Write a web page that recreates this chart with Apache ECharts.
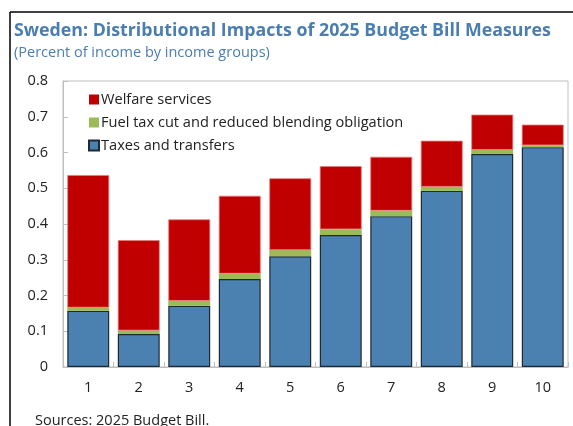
<!DOCTYPE html>
<html>
<head>
<meta charset="utf-8">
<script src="https://cdn.jsdelivr.net/npm/echarts@6/dist/echarts.min.js"></script>
<style>
  html, body { margin: 0; padding: 0; background: #fff; }
  #chart { width: 573px; height: 426px; }
</style>
</head>
<body>
<div id="chart"></div>
<script>
// Income deciles
const categories = ['1', '2', '3', '4', '5', '6', '7', '8', '9', '10'];

// Percent of income, stacked components
const taxesAndTransfers = [0.157, 0.092, 0.171, 0.246, 0.310, 0.369, 0.422, 0.493, 0.596, 0.615];
const fuelTaxCut = [0.009, 0.010, 0.014, 0.015, 0.017, 0.016, 0.015, 0.011, 0.011, 0.005];
const welfareServices = [0.371, 0.253, 0.228, 0.218, 0.201, 0.177, 0.151, 0.129, 0.099, 0.058];

const yTicks = [0, 0.1, 0.2, 0.3, 0.4, 0.5, 0.6, 0.7, 0.8];

const FONT = 'Open Sans';
const chart = echarts.init(document.getElementById('chart'), null, { renderer: 'canvas' });

chart.setOption({
  backgroundColor: '#ffffff',
  animation: false,
  title: {
    text: 'Sweden: Distributional Impacts of 2025 Budget Bill Measures',
    subtext: '(Percent of income by income groups)',
    left: 9,
    top: 17,
    itemGap: 5,
    textStyle: { color: '#4a7eb0', fontFamily: FONT, fontSize: 17.8, fontWeight: 'bold' },
    subtextStyle: { color: '#4a7eb0', fontFamily: FONT, fontSize: 14.5 }
  },
  legend: {
    orient: 'vertical',
    left: 83,
    top: 87,
    itemWidth: 10,
    itemHeight: 10,
    itemGap: 8,
    icon: 'rect',
    data: [
      { name: 'Welfare services', itemStyle: { borderWidth: 0 } },
      { name: 'Fuel tax cut and reduced blending obligation' },
      { name: 'Taxes and transfers' }
    ],
    textStyle: { color: '#222', fontFamily: FONT, fontSize: 14.6, padding: [0, 0, 0, -3] }
  },
  grid: {
    left: 63, right: 5, top: 81, bottom: 59,
    show: true, borderColor: '#bfbfbf', borderWidth: 1
  },
  xAxis: {
    type: 'category',
    data: categories,
    axisLine: { lineStyle: { color: '#bfbfbf', width: 1 } },
    axisTick: { show: true, inside: true, length: 5, lineStyle: { color: '#bfbfbf' } },
    axisLabel: { color: '#222', fontFamily: FONT, fontSize: 14.5, margin: 13 }
  },
  yAxis: {
    type: 'value',
    min: 0, max: 0.8, interval: 0.1,
    splitLine: { show: false },
    axisLine: { show: true, lineStyle: { color: '#bfbfbf', width: 1 } },
    axisTick: { show: true, inside: true, length: 5, lineStyle: { color: '#bfbfbf' } },
    axisLabel: {
      color: '#222', fontFamily: FONT, fontSize: 14.5, margin: 15,
      formatter: v => {
        const t = yTicks.find(x => Math.abs(x - v) < 1e-9);
        return t === 0 ? '0' : (t !== undefined ? t.toFixed(1) : '');
      }
    }
  },
  series: [
    {
      name: 'Taxes and transfers', type: 'bar', stack: 'total', data: taxesAndTransfers,
      barCategoryGap: '17%',
      itemStyle: { color: '#4a81b0', borderColor: '#1f2a33', borderWidth: 1.2 }
    },
    {
      name: 'Fuel tax cut and reduced blending obligation', type: 'bar', stack: 'total', data: fuelTaxCut,
      itemStyle: { color: '#9bbb59' }
    },
    {
      name: 'Welfare services', type: 'bar', stack: 'total', data: welfareServices,
      itemStyle: { color: '#c00000', borderColor: '#e87b7b', borderWidth: 0.8 }
    }
  ],
  graphic: [
    { type: 'line', shape: { x1: 10, y1: 12, x2: 573, y2: 12 }, style: { stroke: '#000', lineWidth: 1.5 } },
    { type: 'line', shape: { x1: 10, y1: 12, x2: 10, y2: 426 }, style: { stroke: '#000', lineWidth: 1.5 } },
    {
      type: 'text', left: 35, top: 413,
      style: { text: 'Sources: 2025 Budget Bill.', fill: '#222', font: '14.5px "Open Sans"' }
    }
  ]
});
</script>
</body>
</html>
